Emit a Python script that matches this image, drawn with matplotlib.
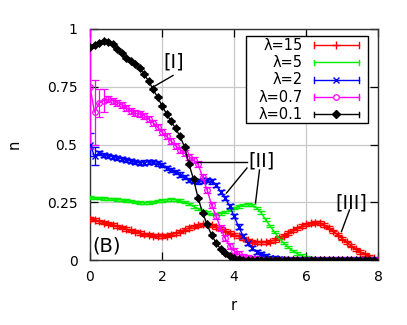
import numpy as np
import matplotlib
matplotlib.use("Agg")
import matplotlib.pyplot as plt
from matplotlib.lines import Line2D
from matplotlib.patches import Rectangle

r = [i * 0.125 for i in range(64)]

n_l15 = [0.177, 0.174, 0.168, 0.162, 0.157, 0.153, 0.146, 0.140, 0.134, 0.128,
         0.122, 0.117, 0.112, 0.109, 0.106, 0.104, 0.104, 0.106, 0.110, 0.116,
         0.123, 0.131, 0.139, 0.146, 0.151, 0.154, 0.154, 0.150, 0.143, 0.135,
         0.127, 0.118, 0.110, 0.102, 0.094, 0.086, 0.080, 0.077, 0.076, 0.077,
         0.080, 0.087, 0.096, 0.106, 0.117, 0.128, 0.138, 0.147, 0.155, 0.159,
         0.161, 0.160, 0.152, 0.140, 0.125, 0.110, 0.093, 0.077, 0.062, 0.047,
         0.035, 0.024, 0.014, 0.007]

n_l5 = [0.270, 0.268, 0.267, 0.266, 0.265, 0.264, 0.262, 0.260, 0.257, 0.254,
        0.251, 0.249, 0.248, 0.249, 0.252, 0.255, 0.258, 0.261, 0.262, 0.261,
        0.257, 0.251, 0.242, 0.232, 0.222, 0.213, 0.205, 0.200, 0.199, 0.201,
        0.207, 0.215, 0.224, 0.232, 0.238, 0.240, 0.238, 0.226, 0.205, 0.175,
        0.148, 0.120, 0.095, 0.074, 0.056, 0.040, 0.028, 0.019, 0.012, 0.007,
        0.004, 0.002, 0.0, 0.0, 0.0, 0.0, 0.0, 0.0, 0.0, 0.0,
        0.0, 0.0, 0.0, 0.0]

n_l2 = [0.500, 0.450, 0.462, 0.455, 0.452, 0.447, 0.442, 0.438, 0.433, 0.428,
        0.424, 0.420, 0.422, 0.425, 0.423, 0.418, 0.410, 0.400, 0.390, 0.380,
        0.370, 0.358, 0.348, 0.342, 0.340, 0.342, 0.345, 0.340, 0.326, 0.295,
        0.270, 0.235, 0.190, 0.145, 0.105, 0.075, 0.052, 0.036, 0.025, 0.016,
        0.010, 0.007, 0.004, 0.002, 0.0, 0.0, 0.0, 0.0, 0.0, 0.0,
        0.0, 0.0, 0.0, 0.0, 0.0, 0.0, 0.0, 0.0, 0.0, 0.0,
        0.0, 0.0, 0.0, 0.0]

n_l07 = [0.750, 0.640, 0.680, 0.690, 0.695, 0.690, 0.680, 0.672, 0.660, 0.645,
         0.635, 0.632, 0.625, 0.612, 0.595, 0.575, 0.553, 0.535, 0.515, 0.495,
         0.478, 0.463, 0.448, 0.432, 0.415, 0.360, 0.305, 0.240, 0.190, 0.140,
         0.094, 0.062, 0.040, 0.025, 0.015, 0.009, 0.005, 0.003, 0.0, 0.0,
         0.0, 0.0, 0.0, 0.0, 0.0, 0.0, 0.0, 0.0, 0.0, 0.0,
         0.0, 0.0, 0.0, 0.0, 0.0, 0.0, 0.0, 0.0, 0.0, 0.0,
         0.0, 0.0, 0.0, 0.0]

n_l01 = [0.920, 0.930, 0.940, 0.948, 0.945, 0.935, 0.915, 0.895, 0.873, 0.860,
         0.849, 0.830, 0.805, 0.775, 0.740, 0.705, 0.668, 0.633, 0.600, 0.570,
         0.535, 0.490, 0.415, 0.350, 0.270, 0.205, 0.155, 0.108, 0.075, 0.048,
         0.029, 0.016, 0.008, 0.004, 0.002, 0.0, 0.0, 0.0, 0.0, 0.0,
         0.0, 0.0, 0.0, 0.0, 0.0, 0.0, 0.0, 0.0, 0.0, 0.0,
         0.0, 0.0, 0.0, 0.0, 0.0, 0.0, 0.0, 0.0, 0.0, 0.0,
         0.0, 0.0, 0.0, 0.0]

# error bars: first points larger, rest small
err_head_l2 = [0.05, 0.04]
err_head_l07 = [0.27, 0.14, 0.06, 0.05]
err_rest = {"l15": 0.007, "l5": 0.005, "l2": 0.009, "l07": 0.013, "l01": 0.004}

labels = ["λ=15", "λ=5", "λ=2", "λ=0.7", "λ=0.1"]
colors = ["#ff0000", "#00ee00", "#0000ff", "#ff00ff", "#000000"]
markers = ["+", "None", "x", "o", "D"]

xticks = [0, 2, 4, 6, 8]
yticks = [0, 0.25, 0.5, 0.75, 1]
yticklabels = ["0", "0.25", "0.5", "0.75", "1"]

W, H = 407, 325
fig = plt.figure(figsize=(W / 100, H / 100), dpi=100)
L, R, T, B = 90, 378, 29, 260
ax = fig.add_axes([L / W, 1 - B / H, (R - L) / W, (B - T) / H])

def mkerr(head, rest, n):
    return list(head) + [rest] * (n - len(head))

series = [n_l15, n_l5, n_l2, n_l07, n_l01]
errs = [mkerr([], err_rest["l15"], 64), mkerr([], err_rest["l5"], 64),
        mkerr(err_head_l2, err_rest["l2"], 64), mkerr(err_head_l07, err_rest["l07"], 64),
        mkerr([], err_rest["l01"], 64)]
msizes = [6, 0, 5, 4, 4.3]

for y, e, c, m, ms in zip(series, errs, colors, markers, msizes):
    kw = dict(marker=m, markersize=ms, color=c, lw=1.0, elinewidth=0.9,
              capsize=2.8, capthick=0.9, zorder=3)
    if m == "o":
        kw.update(markerfacecolor="none", markeredgewidth=0.9)
    elif m == "D":
        kw.update(markerfacecolor=c, markeredgewidth=0.5)
    else:
        kw.update(markeredgewidth=1.0)
    ax.errorbar(r, y, yerr=e, **kw)

ax.set_xlim(0, 8)
ax.set_ylim(0, 1)
ax.set_xticks(xticks)
ax.set_yticks(yticks)
ax.set_yticklabels(yticklabels)
ax.grid(True, color="#c8c8c8", lw=0.9)
ax.set_axisbelow(True)
ax.tick_params(direction="in", length=6, width=0.9, top=True, right=True,
               labelsize=10, pad=7, colors="black")
ax.tick_params(axis="y", pad=9)
for s in ax.spines.values():
    s.set_linewidth(1.0)
    s.set_color("#333333")
ax.set_xlabel("r", fontsize=10.5, labelpad=10)
ax.set_ylabel("n", fontsize=10.5, labelpad=18)

def fp(x, y):
    return (x / W, 1 - y / H)

# legend box drawn gnuplot-style, in figure pixels (y from top)
x0, y0 = fp(246, 123)
x1, y1 = fp(368, 36)
fig.patches.append(Rectangle((x0, y0), x1 - x0, y1 - y0, transform=fig.transFigure,
                             facecolor="white", edgecolor="black", lw=1.0, zorder=5))
rows = [45, 62.3, 79.7, 97, 114.3]
for lab, c, m, ms, yy in zip(labels, colors, markers, msizes, rows):
    tx, ty = fp(302.5, yy)
    fig.text(tx, ty, lab, ha="right", va="center", fontsize=10.5, zorder=6)
    a, b = fp(313.5, yy)
    a2, _ = fp(359, yy)
    fig.lines.append(Line2D([a, a2], [b, b], color=c, lw=1.0, transform=fig.transFigure, zorder=6))
    for xx in (313.5, 359):
        cx, cy0 = fp(xx, yy - 2.8)
        _, cy1 = fp(xx, yy + 2.8)
        fig.lines.append(Line2D([cx, cx], [cy0, cy1], color=c, lw=1.0,
                                transform=fig.transFigure, zorder=6))
    if m != "None":
        mx, my = fp(336, yy)
        kw = dict(marker=m, markersize=ms, color=c, transform=fig.transFigure, zorder=7)
        if m == "o":
            kw.update(markerfacecolor="white", markeredgewidth=0.9)
        fig.lines.append(Line2D([mx], [my], **kw))

def ftext(x, y, s, size=14):
    fx, fy = fp(x, y)
    fig.text(fx, fy, s, ha="center", va="center", fontsize=size, zorder=8)

def fline(xa, ya, xb, yb):
    pa = fp(xa, ya)
    pb = fp(xb, yb)
    fig.lines.append(Line2D([pa[0], pb[0]], [pa[1], pb[1]], color="black", lw=1.0,
                            transform=fig.transFigure, zorder=8))

ftext(174, 62, "[I]")
fline(154, 86.5, 173, 75.5)
ftext(262, 161, "[II]")
fline(197, 161.7, 247, 161.7)
fline(226.5, 193, 247, 168)
fline(255.5, 203, 259.5, 170)
ftext(351, 203, "[III]")
fline(341.5, 231.5, 349.5, 210)
ftext(107, 246.5, "(B)")

fig.savefig("out.png", dpi=100, facecolor="white")
